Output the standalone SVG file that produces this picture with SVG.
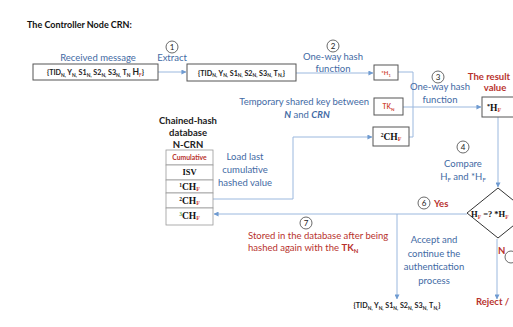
<svg xmlns="http://www.w3.org/2000/svg" width="513" height="327" viewBox="0 0 513 327">
<defs>
<marker id="ah" viewBox="0 0 6 6" refX="5.5" refY="3" markerWidth="5" markerHeight="5" orient="auto" markerUnits="userSpaceOnUse"><path d="M0,0 L6,3 L0,6 z" fill="#6f9bd1"/></marker>
<style>
text{font-family:Lato,"Open Sans","Liberation Sans",sans-serif}
.t{font-size:9px;font-weight:bold;fill:#111}
.bl{font-size:9.5px;fill:#3f6aa4}
.rd{font-size:9.5px;fill:#b8322d}
.rb{font-size:9.5px;fill:#b8322d;font-weight:bold}
.bx{fill:#fff;stroke:#555;stroke-width:1}
.tb{fill:#fff;stroke:#999;stroke-width:0.8}
.m{font-size:7.2px;font-weight:bold;fill:#222}
.s{font-size:4.8px}
.sf{font-family:"Liberation Serif","DejaVu Serif",serif;font-weight:bold;fill:#111}
.f{fill:#d04a3a}
.cn{fill:none;stroke:#9bb8de;stroke-width:1}
.ci{fill:#fff;stroke:#444;stroke-width:0.8}
.cnum{font-size:8px;fill:#222;text-anchor:middle}
.c{text-anchor:middle}
</style>
</defs>
<text x="27" y="28" class="t">The Controller Node CRN:</text>

<g id="connectors">
<line class="cn" x1="158" y1="72" x2="186" y2="72" marker-end="url(#ah)"/>
<line class="cn" x1="296" y1="73" x2="373" y2="73" marker-end="url(#ah)"/>
<polyline class="cn" points="398,72 413,72 413,137 409,137"/>
<line class="cn" x1="403" y1="107" x2="481" y2="107" marker-end="url(#ah)"/>
<polyline class="cn" points="213,199 293,199 293,137 372,137" marker-end="url(#ah)"/>
<line class="cn" x1="498" y1="117" x2="498" y2="187" marker-end="url(#ah)"/>
<line class="cn" x1="467" y1="214" x2="214" y2="214" marker-end="url(#ah)"/>
<line class="cn" x1="397" y1="214" x2="397" y2="299" marker-end="url(#ah)"/>
<line class="cn" x1="497" y1="239" x2="497" y2="299" marker-end="url(#ah)"/>
</g>

<g id="received">
<text x="98" y="61" class="bl c">Received message</text>
<rect class="bx" x="33" y="64" width="125" height="16"/>
<text x="95.5" y="75" class="m c">{TID<tspan class="s" dy="1.5">N,</tspan><tspan dy="-1.5"> Y</tspan><tspan class="s" dy="1.5">N,</tspan><tspan dy="-1.5"> S1</tspan><tspan class="s" dy="1.5">N,</tspan><tspan dy="-1.5"> S2</tspan><tspan class="s" dy="1.5">N,</tspan><tspan dy="-1.5"> S3</tspan><tspan class="s" dy="1.5">N,</tspan><tspan dy="-1.5"> T</tspan><tspan class="s" dy="1.5">N</tspan><tspan dy="-1.5" font-size="8.5"> H</tspan><tspan class="s f" dy="1.5">F</tspan><tspan dy="-1.5">}</tspan></text>
</g>

<g id="step1">
<circle class="ci" cx="172" cy="47" r="6"/>
<text x="172" y="50" class="cnum">1</text>
<text x="172" y="61" class="bl c">Extract</text>
</g>

<g id="extracted">
<rect class="bx" x="187" y="64" width="109" height="17"/>
<text x="241.5" y="75.5" class="m c">{TID<tspan class="s" dy="1.5">N,</tspan><tspan dy="-1.5"> Y</tspan><tspan class="s" dy="1.5">N,</tspan><tspan dy="-1.5"> S1</tspan><tspan class="s" dy="1.5">N,</tspan><tspan dy="-1.5"> S2</tspan><tspan class="s" dy="1.5">N,</tspan><tspan dy="-1.5"> S3</tspan><tspan class="s" dy="1.5">N,</tspan><tspan dy="-1.5"> T</tspan><tspan class="s" dy="1.5">N,</tspan><tspan dy="-1.5">}</tspan></text>
</g>

<g id="step2">
<circle class="ci" cx="333" cy="46" r="6"/>
<text x="333" y="49" class="cnum">2</text>
<text x="333" y="60" class="bl c">One-way hash</text>
<text x="333" y="72" class="bl c">function</text>
</g>

<g id="h1">
<rect class="bx" x="374" y="65" width="24" height="15"/>
<text x="386" y="75" class="c" font-size="6" font-weight="bold" fill="#d04a3a">*H<tspan font-size="4" dy="1.5">1</tspan></text>
</g>

<g id="tk">
<text x="369" y="105" class="bl" text-anchor="end">Temporary shared key between</text>
<text x="307" y="118" class="bl c"><tspan font-weight="bold" font-style="italic">N</tspan> and <tspan font-weight="bold" font-style="italic">CRN</tspan></text>
<rect class="bx" x="374" y="98" width="29" height="17"/>
<text x="388.5" y="109" class="c" font-size="6.5" font-weight="bold" fill="#d04a3a">TK<tspan font-size="4.5" dy="1.5">N</tspan></text>
</g>

<g id="ch2box">
<rect class="bx" x="373" y="127" width="36" height="19"/>
<text x="391" y="140" class="sf c" font-size="9.5"><tspan font-size="5.5" dy="-3">2</tspan><tspan dy="3">CH</tspan><tspan class="f" font-size="6" dy="1">F</tspan></text>
</g>

<g id="step3">
<circle class="ci" cx="438" cy="77" r="6"/>
<text x="438" y="80" class="cnum">3</text>
<text x="440" y="90" class="bl c">One-way hash</text>
<text x="440" y="103" class="bl c">function</text>
</g>

<g id="result">
<text x="489" y="80" class="rb c">The result</text>
<text x="495" y="91" class="rb c">value</text>
<rect class="bx" x="482" y="97" width="40" height="20"/>
<text x="487" y="111" class="sf" font-size="9.5"><tspan font-size="6" dy="-3">*</tspan><tspan dy="3">H</tspan><tspan class="f" font-size="6" dy="1">F</tspan></text>
</g>

<g id="step4">
<circle class="ci" cx="463" cy="147" r="6"/>
<text x="463" y="150" class="cnum">4</text>
<text x="463" y="167" class="bl c">Compare</text>
<text x="463" y="180" class="bl c">H<tspan font-size="6" dy="1.5">F</tspan><tspan dy="-1.5"> and *H</tspan><tspan font-size="6" dy="1.5">F</tspan></text>
</g>

<g id="decision">
<polygon points="498,188 529,213 498,238 467,213" fill="#fff" stroke="#333" stroke-width="1"/>
<text x="471" y="217" class="sf" font-size="8.5">H<tspan class="f" font-size="5.5" dy="1.5">F</tspan><tspan dy="-1.5"> =? *H</tspan><tspan class="f" font-size="5.5" dy="1.5">F</tspan></text>
</g>

<g id="step6">
<circle class="ci" cx="424" cy="203" r="6"/>
<text x="424" y="206" class="cnum">6</text>
<text x="434" y="207" class="rb">Yes</text>
</g>

<g id="database">
<text x="188" y="124" class="c" font-size="9.5" font-weight="bold" fill="#222">Chained-hash</text>
<text x="188" y="136" class="c" font-size="9.5" font-weight="bold" fill="#222">database</text>
<text x="188" y="148" class="c" font-size="9.5" font-weight="bold" fill="#222">N-CRN</text>
<rect class="tb" x="166" y="150" width="47" height="15"/>
<rect class="tb" x="166" y="165" width="47" height="15"/>
<rect class="tb" x="166" y="180" width="47" height="13"/>
<rect class="tb" x="166" y="193" width="47" height="15"/>
<rect class="tb" x="166" y="208" width="47" height="17"/>
<text x="189.5" y="160" class="c" font-size="6.8" font-weight="bold" fill="#b8322d">Cumulative</text>
<text x="189.5" y="175" class="sf c" font-size="8.5">ISV</text>
<text x="189.5" y="190" class="sf c" font-size="9.5"><tspan font-size="5.5" dy="-3">1</tspan><tspan dy="3">CH</tspan><tspan class="f" font-size="6" dy="1">F</tspan></text>
<text x="189.5" y="204" class="sf c" font-size="9.5"><tspan font-size="5.5" dy="-3">2</tspan><tspan dy="3">CH</tspan><tspan class="f" font-size="6" dy="1">F</tspan></text>
<text x="189.5" y="219" class="sf c" font-size="9.5"><tspan font-size="5.5" dy="-3" fill="#4a9a4a">3</tspan><tspan dy="3">CH</tspan><tspan class="f" font-size="6" dy="1">F</tspan></text>
</g>

<g id="load">
<text x="245" y="160" class="bl c">Load last</text>
<text x="245" y="173" class="bl c">cumulative</text>
<text x="245" y="186" class="bl c">hashed value</text>
</g>

<g id="step7">
<circle class="ci" cx="306" cy="223" r="6"/>
<text x="306" y="226" class="cnum">7</text>
<text x="248" y="239" class="rd">Stored in the database after being</text>
<text x="248" y="251" class="rd">hashed again with the <tspan font-weight="bold">TK</tspan><tspan font-size="6" font-weight="bold" dy="1.5">N</tspan></text>
</g>

<g id="accept">
<text x="434" y="243" class="bl c">Accept and</text>
<text x="434" y="257" class="bl c">continue the</text>
<text x="434" y="270" class="bl c">authentication</text>
<text x="434" y="284" class="bl c">process</text>
</g>

<g id="output">
<text x="397" y="308" class="m c">{TID<tspan class="s" dy="1.5">N,</tspan><tspan dy="-1.5"> Y</tspan><tspan class="s" dy="1.5">N,</tspan><tspan dy="-1.5"> S1</tspan><tspan class="s" dy="1.5">N,</tspan><tspan dy="-1.5"> S2</tspan><tspan class="s" dy="1.5">N,</tspan><tspan dy="-1.5"> S3</tspan><tspan class="s" dy="1.5">N,</tspan><tspan dy="-1.5"> T</tspan><tspan class="s" dy="1.5">N,</tspan><tspan dy="-1.5">}</tspan></text>
</g>

<g id="no">
<text x="498" y="254" class="rb">N</text>
<circle class="ci" cx="511" cy="257" r="6"/>
<text x="476" y="305" class="rb">Reject /</text>
</g>
</svg>
